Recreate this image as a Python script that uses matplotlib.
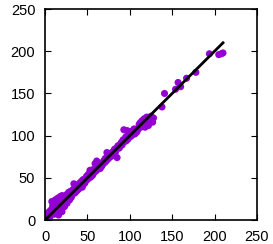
import matplotlib
matplotlib.use("Agg")
import matplotlib.pyplot as plt

# scatter points
x_vals = [2, 4, 5, 6, 7, 8, 8, 9, 10, 10, 11, 12, 12, 13, 14, 14, 15, 15, 16, 16,
          17, 18, 18, 19, 20, 20, 21, 22, 22, 23, 24, 25, 25, 26, 27, 28, 28, 29, 30, 31,
          32, 33, 34, 35, 35, 36, 37, 38, 39, 40, 41, 42, 43, 44, 45, 46, 47, 48, 49, 50,
          51, 52, 53, 54, 55, 56, 57, 58, 59, 60, 61, 62, 63, 64, 65, 66, 67, 68, 69, 70,
          71, 72, 73, 74, 75, 77, 78, 80, 81, 82, 84, 85, 86, 88, 90, 91, 92, 93, 94, 95,
          96, 97, 98, 99, 100, 101, 102, 103, 104, 105, 106, 107, 108, 110, 111, 112, 113, 114, 115, 116,
          117, 118, 119, 120, 121, 122, 123, 124, 125, 126, 127, 128, 138, 141, 154, 157, 160, 167, 178, 194,
          205, 208, 210,
          3, 5, 7, 9, 11, 13, 15, 17, 19, 21, 23, 26, 29, 32, 36, 41, 44, 47, 52, 57,
          62, 66, 71, 76, 79, 83, 87, 89, 96, 103, 109, 114, 118, 122]
y_vals = [3, 6, 10, 4, 12, 22, 9, 14, 20, 8, 18, 24, 13, 17, 21, 10, 26, 12, 6, 19,
          23, 28, 14, 21, 29, 10, 25, 18, 27, 16, 28, 22, 30, 20, 31, 25, 33, 24, 34, 27,
          30, 36, 43, 32, 38, 33, 40, 35, 42, 37, 44, 39, 46, 39, 48, 43, 44, 47, 52, 48,
          54, 50, 59, 51, 56, 53, 60, 57, 67, 58, 70, 60, 62, 65, 61, 67, 64, 66, 70, 68,
          73, 70, 80, 72, 76, 79, 76, 81, 78, 84, 85, 74, 88, 86, 92, 89, 95, 107, 93, 98,
          94, 106, 96, 101, 104, 99, 105, 101, 103, 108, 102, 106, 104, 108, 113, 115, 110, 117, 118, 112,
          120, 110, 116, 122, 114, 112, 121, 119, 123, 118, 116, 121, 134, 150, 155, 163, 158, 168, 175, 197,
          196, 197, 198,
          8, 3, 10, 17, 7, 22, 16, 13, 25, 15, 26, 24, 28, 35, 39, 40, 42, 45, 55, 55,
          64, 63, 69, 74, 76, 80, 85, 90, 99, 104, 106, 111, 114, 119]

# fitted line
line_x = [0, 210]
line_y = [0, 210]

ticks = [0, 50, 100, 150, 200, 250]

fig = plt.figure(figsize=(2.73, 2.44), dpi=100)
ax = fig.add_axes([0.165, 0.098, 0.776, 0.865])

ax.scatter(x_vals, y_vals, s=26, color="#9400D3", edgecolors="none", zorder=2)
ax.plot(line_x, line_y, color="black", linewidth=2, zorder=3)

ax.set_xlim(0, 250)
ax.set_ylim(0, 250)
ax.set_xticks(ticks)
ax.set_yticks(ticks)
ax.tick_params(direction="in", length=4, width=0.8, top=True, right=True,
               labelsize=10.5, pad=7)
for lbl in ax.get_xticklabels() + ax.get_yticklabels():
    lbl.set_family("Liberation Sans")
for sp in ax.spines.values():
    sp.set_linewidth(1.2)

fig.savefig("out.png", dpi=100)
